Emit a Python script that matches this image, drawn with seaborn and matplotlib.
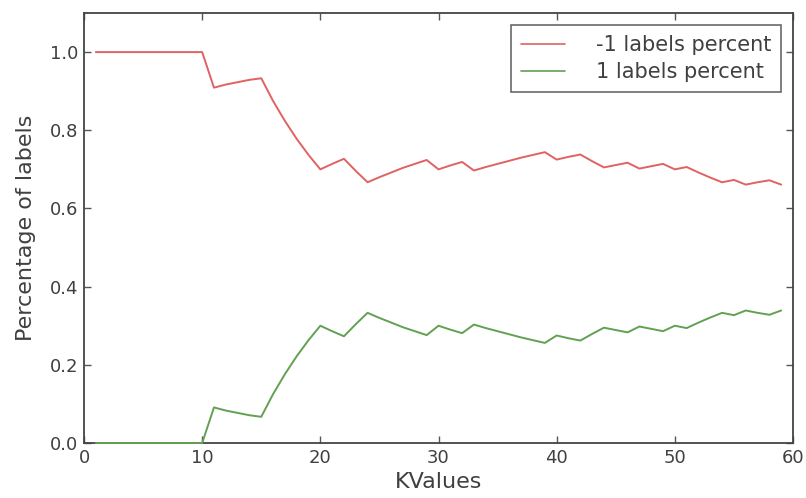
import numpy as np
import pandas as pd
import matplotlib
matplotlib.use("Agg")
import matplotlib.pyplot as plt
import seaborn as sns

k_values = list(range(1, 60))
neg_percent = [1.0] * 10 + [
    0.909, 0.917, 0.923, 0.929, 0.933, 0.875, 0.824, 0.778, 0.737, 0.700,
    0.714, 0.727, 0.696, 0.667, 0.680, 0.692, 0.704, 0.714, 0.724, 0.700,
    0.710, 0.719, 0.697, 0.706, 0.714, 0.722, 0.730, 0.737, 0.744, 0.725,
    0.732, 0.738, 0.721, 0.705, 0.711, 0.717, 0.702, 0.708, 0.714, 0.700,
    0.706, 0.692, 0.679, 0.667, 0.673, 0.661, 0.667, 0.672, 0.661]
pos_percent = [0.0] * 10 + [
    0.091, 0.083, 0.077, 0.071, 0.067, 0.125, 0.176, 0.222, 0.263, 0.300,
    0.286, 0.273, 0.304, 0.333, 0.320, 0.308, 0.296, 0.286, 0.276, 0.300,
    0.290, 0.281, 0.303, 0.294, 0.286, 0.278, 0.270, 0.263, 0.256, 0.275,
    0.268, 0.262, 0.279, 0.295, 0.289, 0.283, 0.298, 0.292, 0.286, 0.300,
    0.294, 0.308, 0.321, 0.333, 0.327, 0.339, 0.333, 0.328, 0.339]
series_names = ["-1 labels percent", "1 labels percent"]
x_ticks = [0, 10, 20, 30, 40, 50, 60]
y_ticks = [0.0, 0.2, 0.4, 0.6, 0.8, 1.0]

df = pd.DataFrame({
    "KValues": k_values * 2,
    "value": neg_percent + pos_percent,
    "series": [series_names[0]] * len(k_values) + [series_names[1]] * len(k_values),
})

sns.set_theme(style="ticks")
plt.rcParams["font.family"] = ["DejaVu Sans"]
text_color = "#404040"

fig = plt.figure(figsize=(8.06, 4.98), dpi=100)
ax = fig.add_axes([84 / 806, 1 - 443 / 498, (793 - 84) / 806, (443 - 13) / 498])

palette = {series_names[0]: "#e06262", series_names[1]: "#62a052"}
sns.lineplot(data=df, x="KValues", y="value", hue="series", palette=palette,
             linewidth=1.4, ax=ax)
for line in ax.get_lines():
    line.set_zorder(3)
    line.set_clip_on(False)

ax.set_xlim(0, 60)
ax.set_ylim(0, 1.1)
ax.set_xticks(x_ticks)
ax.set_yticks(y_ticks)
ax.set_yticklabels([f"{v:.1f}" for v in y_ticks])
ax.tick_params(direction="in", top=True, right=True, length=5, width=1,
               labelsize=13, colors="#555555", labelcolor=text_color, pad=4)
for s in ax.spines.values():
    s.set_color("#444444")
    s.set_linewidth(1.3)
ax.set_xlabel("KValues", fontsize=16, color=text_color, labelpad=4)
ax.set_ylabel("Percentage of labels", fontsize=16, color=text_color, labelpad=10)

leg = ax.legend(loc="upper right", fontsize=15, frameon=True, fancybox=False,
                handlelength=2.1, borderpad=0.45, labelspacing=0.35,
                handletextpad=1.5, borderaxespad=0.6)
leg.get_frame().set_edgecolor("#444444")
leg.get_frame().set_linewidth(1.2)
for line in leg.get_lines():
    line.set_linewidth(1.2)
for t in leg.get_texts():
    t.set_color(text_color)

fig.savefig("out.png", dpi=100)
